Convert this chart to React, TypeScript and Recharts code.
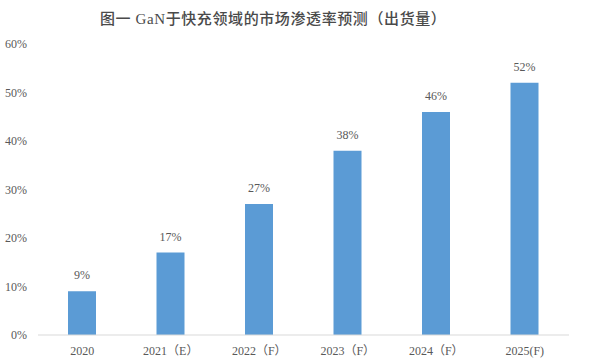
import { Bar, BarChart, LabelList, XAxis, YAxis } from 'recharts';

const years = ['2020', '2021（E）', '2022（F）', '2023（F）', '2024（F）', '2025(F)'];
const penetration = [9, 17, 27, 38, 46, 52];
const yTicks = [0, 10, 20, 30, 40, 50, 60];

const data = years.map((year, i) => ({ year, rate: penetration[i] }));

const serif = '"Liberation Serif", "Noto Sans CJK SC", serif';

export default function App() {
  return (
    <div style={{ position: 'absolute', left: 0, top: 0, width: 600, height: 363, background: '#fff' }}>
      <div
        style={{
          position: 'absolute',
          top: 7,
          left: 100,
          whiteSpace: 'nowrap',
          fontFamily: serif,
          fontSize: 15,
          fontWeight: 500,
          color: '#4a4a4a',
          letterSpacing: 0.6,
        }}
      >
        图一 GaN于快充领域的市场渗透率预测（出货量）
      </div>
      <BarChart width={600} height={363} data={data} margin={{ top: 44, right: 31, left: 0, bottom: 0 }}>
        <XAxis
          dataKey="year"
          height={28}
          tickLine={false}
          axisLine={{ stroke: '#d9d9d9' }}
          tick={{ fontSize: 12, fill: '#595959', fontFamily: serif }}
          tickMargin={5}
          interval={0}
        />
        <YAxis
          width={38}
          domain={[0, 60]}
          ticks={yTicks}
          tickFormatter={(v: number) => `${v}%`}
          axisLine={false}
          tickLine={false}
          tickSize={0}
          tickMargin={11}
          tick={{ fontSize: 12, fill: '#595959', fontFamily: serif }}
        />
        <Bar dataKey="rate" fill="#5b9bd5" barSize={28} isAnimationActive={false}>
          <LabelList
            dataKey="rate"
            position="top"
            offset={12}
            formatter={(v: number) => `${v}%`}
            style={{ fontSize: 12, fill: '#595959', fontFamily: serif }}
          />
        </Bar>
      </BarChart>
    </div>
  );
}
